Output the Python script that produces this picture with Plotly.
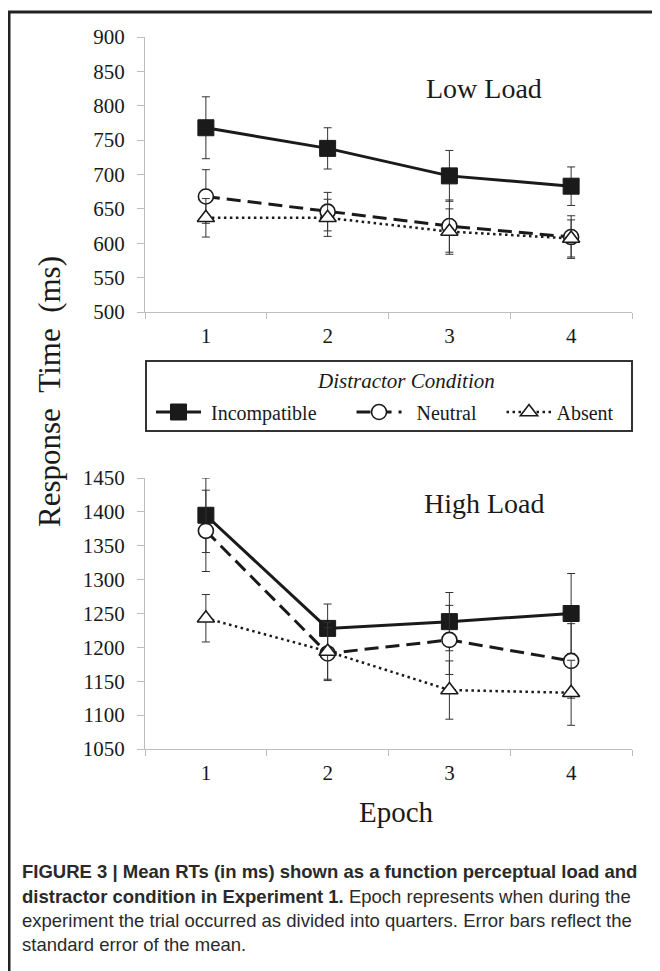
import plotly.graph_objects as go

epochs = ["1", "2", "3", "4"]
series_names = ["Incompatible", "Neutral", "Absent"]

low_incompatible = [768, 738, 698, 683]
low_incompatible_se = [45, 30, 37, 28]
low_neutral = [668, 646, 625, 609]
low_neutral_se = [39, 28, 38, 31]
low_absent = [637, 637, 617, 607]
low_absent_se = [28, 27, 33, 27]

high_incompatible = [1395, 1228, 1238, 1250]
high_incompatible_se = [55, 36, 43, 59]
high_neutral = [1372, 1191, 1211, 1180]
high_neutral_se = [60, 38, 51, 55]
high_absent = [1243, 1194, 1137, 1133]
high_absent_se = [35, 43, 43, 48]

low_ticks = list(range(500, 901, 50))
high_ticks = list(range(1050, 1451, 50))

# page has an 8px body margin, so the figure is drawn 8px in from the window
OFF = 8
W, H = 660 - OFF, 971 - OFF
# plot area in window pixels: x 145..632, y 37..749
L, R, T, B = 145 - OFF, W - (632 - OFF), 37 - OFF, H - (749 - OFF)
PW, PH = W - L - R, H - T - B


def px2x(px):
    return (px - OFF - L) / PW


def px2y(py):
    return (H - B - (py - OFF)) / PH


SERIF = "Liberation Serif, Times New Roman, serif"
INK = "#1a1a1a"

styles = {
    "Incompatible": dict(line=dict(color=INK, width=3, dash="solid"),
                         marker=dict(symbol="square", size=16, color=INK,
                                     line=dict(color=INK, width=1))),
    "Neutral": dict(line=dict(color=INK, width=3, dash="14px,7px"),
                    marker=dict(symbol="circle", size=15, color="white",
                                line=dict(color=INK, width=1.6))),
    "Absent": dict(line=dict(color=INK, width=2.5, dash="2.5px,3.5px"),
                   marker=dict(symbol="triangle-up", size=15, color="white",
                               line=dict(color=INK, width=1.6))),
}
NB = "\u00a0"
legend_labels = {
    "Incompatible": NB * 1 + "Incompatible" + NB * 6,
    "Neutral": NB * 2 + "Neutral" + NB * 4,
    "Absent": "Absent",
}

fig = go.Figure()

low_data = {"Incompatible": (low_incompatible, low_incompatible_se),
            "Neutral": (low_neutral, low_neutral_se),
            "Absent": (low_absent, low_absent_se)}
high_data = {"Incompatible": (high_incompatible, high_incompatible_se),
             "Neutral": (high_neutral, high_neutral_se),
             "Absent": (high_absent, high_absent_se)}

for name in series_names:
    vals, se = low_data[name]
    fig.add_trace(go.Scatter(
        x=epochs, y=vals, name=legend_labels[name], mode="lines+markers",
        error_y=dict(type="data", array=se, visible=True, color="#333333",
                     thickness=1, width=4),
        xaxis="x", yaxis="y", legendgroup=name, showlegend=True,
        **styles[name]))
for name in series_names:
    vals, se = high_data[name]
    fig.add_trace(go.Scatter(
        x=epochs, y=vals, name=name, mode="lines+markers",
        error_y=dict(type="data", array=se, visible=True, color="#333333",
                     thickness=1, width=4),
        xaxis="x2", yaxis="y2", legendgroup=name, showlegend=False,
        **styles[name]))

axis_common = dict(showline=True, linecolor="#bdbdbd", linewidth=1,
                   ticks="outside", tickcolor="#bdbdbd", showgrid=False,
                   zeroline=False, tickfont=dict(family=SERIF, size=21, color=INK))

fig.update_layout(
    width=W, height=H,
    margin=dict(l=L, r=R, t=T, b=B),
    paper_bgcolor="white", plot_bgcolor="white",
    xaxis=dict(domain=[0, 1], anchor="y", type="category",
               range=[-0.5, 3.5], tickson="boundaries", ticklen=6,
               ticklabelstandoff=5, **axis_common),
    yaxis=dict(domain=[px2y(312), 1], anchor="x", range=[500, 900],
               tickvals=low_ticks, ticklen=7, ticklabelstandoff=8,
               **axis_common),
    xaxis2=dict(domain=[0, 1], anchor="y2", type="category",
                range=[-0.5, 3.5], tickson="boundaries", ticklen=6,
                ticklabelstandoff=5, **axis_common),
    yaxis2=dict(domain=[0, px2y(478)], anchor="x2", range=[1050, 1450],
                tickvals=high_ticks, ticklen=7, ticklabelstandoff=8,
                **axis_common),
    showlegend=True,
    legend=dict(orientation="h", x=px2x(151), xanchor="left",
                y=px2y(412), yanchor="middle", itemwidth=45,
                font=dict(family=SERIF, size=20, color=INK),
                bgcolor="rgba(0,0,0,0)", borderwidth=0,
                tracegroupgap=0, itemclick=False),
)

annotations = [
    dict(text="Low Load", x=px2x(484), y=px2y(88), font=dict(size=28)),
    dict(text="High Load", x=px2x(484), y=px2y(503), font=dict(size=28)),
    dict(text="<i>Distractor Condition</i>", x=px2x(406), y=px2y(381),
         font=dict(size=21)),
    dict(text="Response\u00a0\u00a0Time\u00a0\u00a0(ms)", x=px2x(49),
         y=px2y(392), textangle=-90, font=dict(size=31)),
    dict(text="Epoch", x=px2x(396), y=px2y(812), font=dict(size=29)),
]
for a in annotations:
    a.update(xref="paper", yref="paper", showarrow=False,
             xanchor="center", yanchor="middle")
    a["font"] = dict(family=SERIF, color=INK, **a["font"])
    fig.add_annotation(**a)

CAP = "Liberation Sans, Arial, sans-serif"
caption_lines = [
    "<b>FIGURE 3 | Mean RTs (in ms) shown as a function perceptual load and</b>",
    "<b>distractor condition in Experiment 1.</b> Epoch represents when during the",
    "experiment the trial occurred as divided into quarters. Error bars reflect the",
    "standard error of the mean.",
]
caption_y = [871, 896, 920, 945]
for line, cy in zip(caption_lines, caption_y):
    fig.add_annotation(text=line, xref="paper", yref="paper",
                       x=px2x(20), y=px2y(cy), xanchor="left",
                       yanchor="middle", showarrow=False,
                       font=dict(family=CAP, size=18.5, color="#2a2a2a"))

# legend frame and figure frame
fig.add_shape(type="rect", xref="paper", yref="paper",
              x0=px2x(146), x1=px2x(632), y0=px2y(361), y1=px2y(431),
              line=dict(color="#333333", width=2))
fig.add_shape(type="line", xref="paper", yref="paper",
              x0=px2x(8), x1=px2x(664), y0=px2y(12), y1=px2y(12),
              line=dict(color="#222222", width=3))
fig.add_shape(type="line", xref="paper", yref="paper",
              x0=px2x(9), x1=px2x(9), y0=px2y(12), y1=px2y(975),
              line=dict(color="#222222", width=3))

fig.write_html("out.html")
